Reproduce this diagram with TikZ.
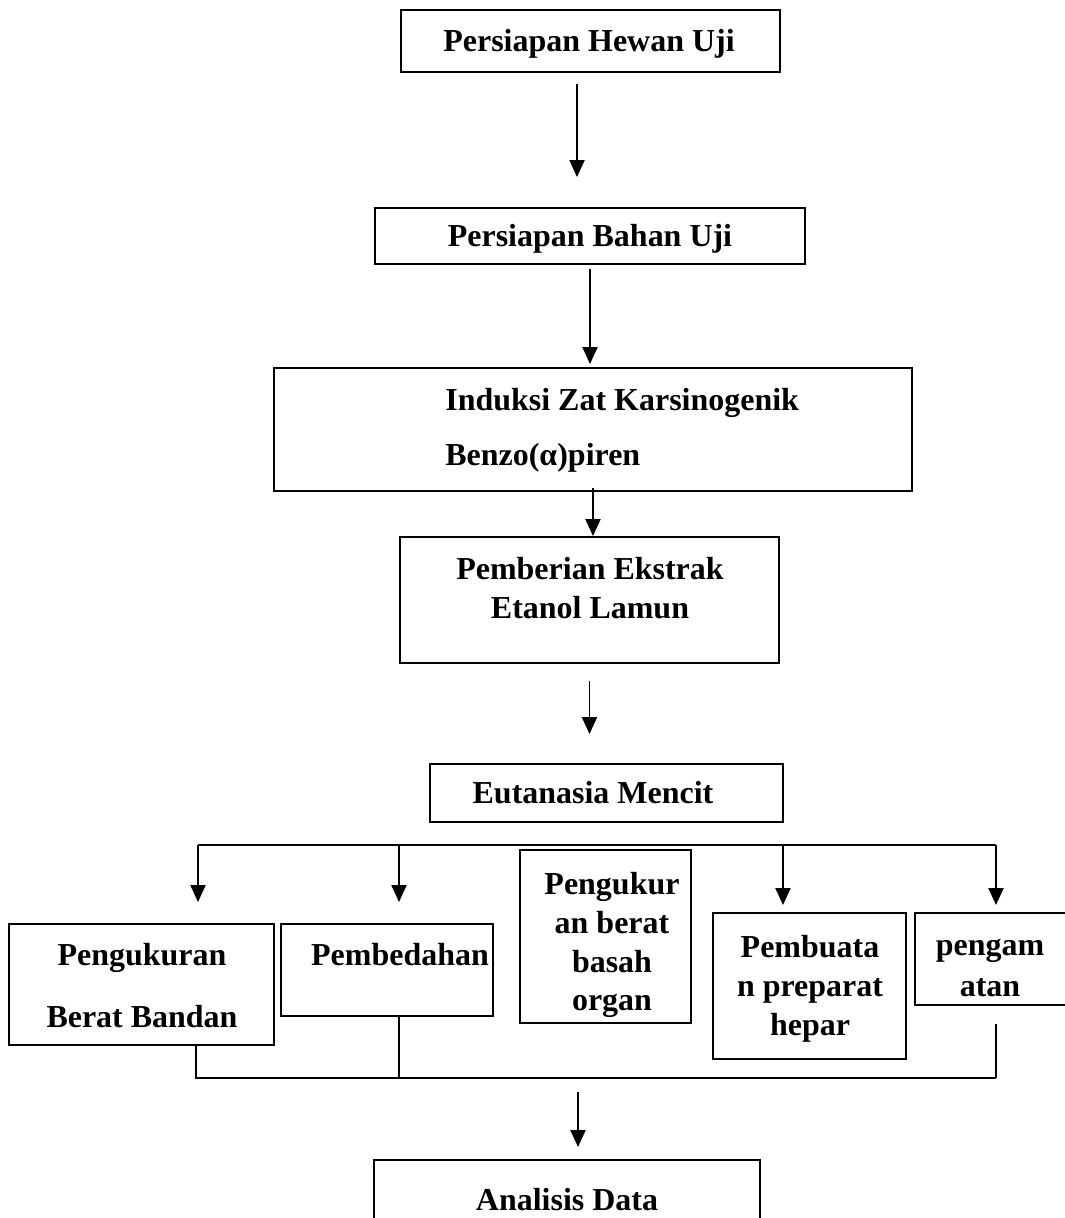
\documentclass[tikz,border=0pt]{standalone}
\usepackage{fontspec}
\setmainfont{Liberation Serif}
\usetikzlibrary{arrows.meta}

\begin{document}
\begin{tikzpicture}[x=0.02cm, y=-0.02cm,
    box/.style={draw, line width=1.1pt, inner sep=0pt},
    txt/.style={font=\bfseries\fontsize{18.2}{22}\selectfont, inner sep=0pt, align=center, anchor=north},
    arr/.style={-{Triangle[length=0.34cm,width=0.3cm]}, line width=1.1pt},
    wire/.style={line width=1.1pt}]

    \path[use as bounding box, clip] (0,0) rectangle (1065,1218);

    % main column
    \node[box, minimum width=7.58cm, minimum height=1.24cm] (hewan) at (590.5,41) {};
    \node[txt] (thewan) at (589,24.5) {\strut Persiapan Hewan Uji};

    \node[box, minimum width=8.6cm, minimum height=1.12cm] (bahan) at (590,236) {};
    \node[txt] (tbahan) at (590,219.5) {\strut Persiapan Bahan Uji};

    \node[box, minimum width=12.76cm, minimum height=2.46cm] (induksi) at (593,429.5) {};
    \node[txt, anchor=north west, align=left] (tinduksi) at (445,383.5)
        {\strut Induksi Zat Karsinogenik\\[9.3pt] Benzo(α)piren};

    \node[box, minimum width=7.58cm, minimum height=2.52cm] (pemberian) at (589.5,600) {};
    \node[txt] (tpemberian) at (590,552.5) {\strut Pemberian Ekstrak\\ Etanol Lamun};

    \node[box, minimum width=7.06cm, minimum height=1.16cm] (eutanasia) at (606.5,793) {};
    \node[txt] (teutanasia) at (593,776.5) {\strut Eutanasia Mencit};

    % branches
    \node[box, minimum width=5.3cm, minimum height=2.42cm] (berat) at (141.5,984.5) {};
    \node[txt] (tberat) at (142,938.5) {\strut Pengukuran\\[13.3pt] Berat Bandan};

    \node[box, minimum width=4.24cm, minimum height=1.84cm] (bedah) at (387,970) {};
    \node[txt] (tbedah) at (400,938.5) {\strut Pembedahan};

    \node[box, minimum width=3.42cm, minimum height=3.46cm] (organ) at (605.5,936.5) {};
    \node[txt] (torgan) at (612,867.5) {\strut Pengukur\\ an berat\\ basah\\ organ};

    \node[box, minimum width=3.86cm, minimum height=2.92cm] (hepar) at (809.5,986) {};
    \node[txt] (thepar) at (810,930.5) {\strut Pembuata\\ n preparat\\ hepar};

    \node[box, minimum width=3.1cm, minimum height=1.84cm] (amat) at (992.5,959) {};
    \node[txt] (tamat) at (990,928.5) {\strut pengam\\[1.3pt] atan};

    \node[box, minimum width=7.72cm, minimum height=1.6cm] (analisis) at (567,1200) {};
    \node[txt] (tanalisis) at (567,1183.5) {\strut Analisis Data};

    % arrows down the column
    \coordinate (h1) at ([xshift=-0.27cm]hewan.south);
    \draw[arr, shorten <=0.22cm, shorten >=0.6cm] (h1) -- (h1 |- bahan.north);
    \draw[arr, shorten <=0.08cm, shorten >=0.06cm] (bahan.south) -- (bahan.south |- induksi.north);
    \draw[arr, shorten <=-0.08cm] (induksi.south) -- (induksi.south |- pemberian.north);
    \draw[arr, shorten <=0.34cm, shorten >=0.58cm] (pemberian.south) -- (pemberian.south |- eutanasia.north);

    % split
    \coordinate (s1) at (198,845);
    \coordinate (s2) at (399,845);
    \coordinate (s3) at (783,845);
    \coordinate (s4) at (996,845);
    \draw[wire] (s1) -- (s4);
    \draw[arr, shorten >=0.42cm] (s1) -- (s1 |- berat.north);
    \draw[arr, shorten >=0.42cm] (s2) -- (s2 |- bedah.north);
    \draw[arr, shorten >=0.14cm] (s3) -- (s3 |- hepar.north);
    \draw[arr, shorten >=0.14cm] (s4) -- (s4 |- amat.north);

    % join
    \coordinate (j1) at (196,1078);
    \coordinate (j2) at (399,1078);
    \coordinate (j3) at (996,1078);
    \coordinate (j4) at (578,1078);
    \draw[wire] (j1 |- berat.south) -- (j1) -- (j3);
    \draw[wire] (j2 |- bedah.south) -- (j2);
    \draw[wire, shorten >=0.36cm] (j3) -- (j3 |- amat.south);
    \draw[arr, shorten <=0.28cm, shorten >=0.24cm] (j4) -- (j4 |- analisis.north);
\end{tikzpicture}
\end{document}
